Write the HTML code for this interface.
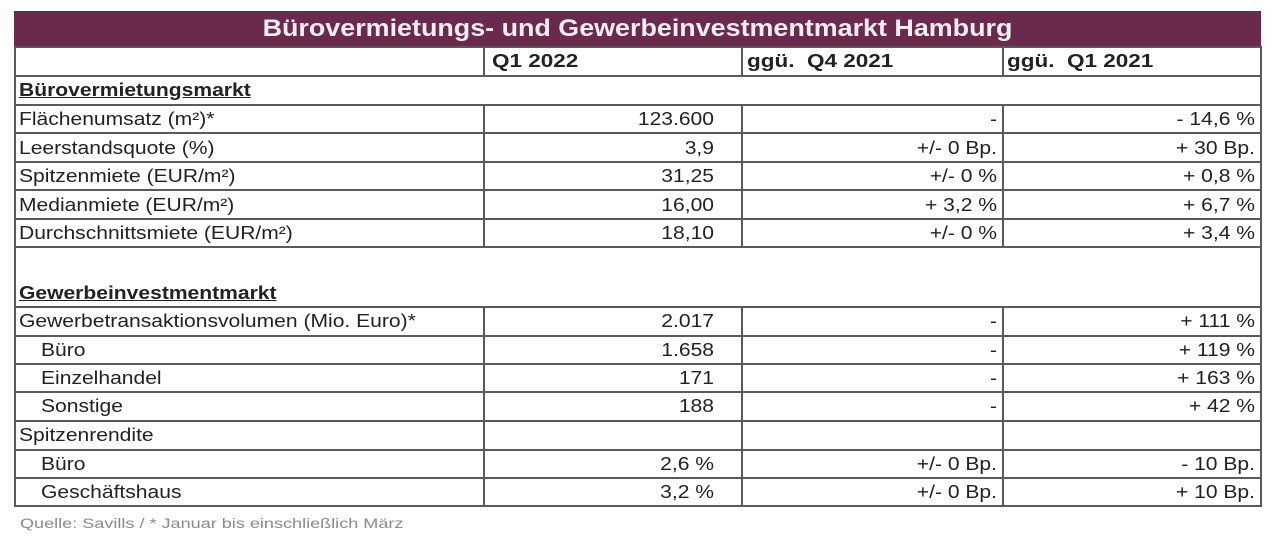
<!DOCTYPE html>
<html><head><meta charset="utf-8"><style>
body{margin:0;width:1280px;height:544px;background:#fff;position:relative;font-family:"Liberation Sans",Arial,sans-serif;overflow:hidden}
.t{position:absolute;font-size:18px;color:#222;white-space:nowrap;line-height:20px;transform:scaleX(1.17);transform-origin:left center}
.r{text-align:right;transform-origin:right center}
.h{position:absolute;background:#5a5a5a;height:2px}
.v{position:absolute;background:#5a5a5a;width:2px}
b.u{text-decoration:underline;font-weight:bold}
.hd{font-weight:bold;transform:scaleX(1.25)}
</style></head><body>
<div style="position:absolute;left:14px;top:11px;width:1247px;height:35px;background:#6a2a4d"></div>
<div class="t" style="left:14px;width:1247px;top:16px;text-align:center;color:#f2eef0;font-weight:bold;font-size:24px;line-height:26px;transform:scaleX(1.12);transform-origin:center">Bürovermietungs- und Gewerbeinvestmentmarkt Hamburg</div>
<div class="h" style="left:14px;width:1248px;top:46px"></div>
<div class="h" style="left:14px;width:1248px;top:75px"></div>
<div class="h" style="left:14px;width:1248px;top:104px"></div>
<div class="h" style="left:14px;width:1248px;top:132px"></div>
<div class="h" style="left:14px;width:1248px;top:161px"></div>
<div class="h" style="left:14px;width:1248px;top:189px"></div>
<div class="h" style="left:14px;width:1248px;top:218px"></div>
<div class="h" style="left:14px;width:1248px;top:246px"></div>
<div class="h" style="left:14px;width:1248px;top:306px"></div>
<div class="h" style="left:14px;width:1248px;top:335px"></div>
<div class="h" style="left:14px;width:1248px;top:363px"></div>
<div class="h" style="left:14px;width:1248px;top:391px"></div>
<div class="h" style="left:14px;width:1248px;top:420px"></div>
<div class="h" style="left:14px;width:1248px;top:449px"></div>
<div class="h" style="left:14px;width:1248px;top:477px"></div>
<div class="h" style="left:14px;width:1248px;top:505px"></div>
<div class="v" style="left:14px;top:46px;height:461px"></div>
<div class="v" style="left:1260px;top:46px;height:461px"></div>
<div class="v" style="left:483px;top:46px;height:30px"></div>
<div class="v" style="left:741px;top:46px;height:30px"></div>
<div class="v" style="left:1002px;top:46px;height:30px"></div>
<div class="v" style="left:483px;top:104px;height:144px"></div>
<div class="v" style="left:741px;top:104px;height:144px"></div>
<div class="v" style="left:1002px;top:104px;height:144px"></div>
<div class="v" style="left:483px;top:306px;height:201px"></div>
<div class="v" style="left:741px;top:306px;height:201px"></div>
<div class="v" style="left:1002px;top:306px;height:201px"></div>
<div class="t hd" style="left:492px;top:51px">Q1 2022</div>
<div class="t hd" style="left:747px;top:51px">ggü.&nbsp; Q4 2021</div>
<div class="t hd" style="left:1007px;top:51px">ggü.&nbsp; Q1 2021</div>
<div class="t" style="left:19px;top:80px"><b class="u">Bürovermietungsmarkt</b></div>
<div class="t" style="left:19px;top:283px"><b class="u">Gewerbeinvestmentmarkt</b></div>

<div class="t" style="left:19px;top:109px">Flächenumsatz (m²)*</div>
<div class="t r" style="left:486px;width:228px;top:109px">123.600</div>
<div class="t r" style="left:744px;width:253px;top:109px">-</div>
<div class="t r" style="left:1005px;width:250px;top:109px">- 14,6 %</div>

<div class="t" style="left:19px;top:138px">Leerstandsquote (%)</div>
<div class="t r" style="left:486px;width:228px;top:138px">3,9</div>
<div class="t r" style="left:744px;width:253px;top:138px">+/- 0 Bp.</div>
<div class="t r" style="left:1005px;width:250px;top:138px">+ 30 Bp.</div>

<div class="t" style="left:19px;top:166px">Spitzenmiete (EUR/m²)</div>
<div class="t r" style="left:486px;width:228px;top:166px">31,25</div>
<div class="t r" style="left:744px;width:253px;top:166px">+/- 0 %</div>
<div class="t r" style="left:1005px;width:250px;top:166px">+ 0,8 %</div>

<div class="t" style="left:19px;top:195px">Medianmiete (EUR/m²)</div>
<div class="t r" style="left:486px;width:228px;top:195px">16,00</div>
<div class="t r" style="left:744px;width:253px;top:195px">+ 3,2 %</div>
<div class="t r" style="left:1005px;width:250px;top:195px">+ 6,7 %</div>

<div class="t" style="left:19px;top:223px">Durchschnittsmiete (EUR/m²)</div>
<div class="t r" style="left:486px;width:228px;top:223px">18,10</div>
<div class="t r" style="left:744px;width:253px;top:223px">+/- 0 %</div>
<div class="t r" style="left:1005px;width:250px;top:223px">+ 3,4 %</div>

<div class="t" style="left:19px;top:311px">Gewerbetransaktionsvolumen (Mio. Euro)*</div>
<div class="t r" style="left:486px;width:228px;top:311px">2.017</div>
<div class="t r" style="left:744px;width:253px;top:311px">-</div>
<div class="t r" style="left:1005px;width:250px;top:311px">+ 111 %</div>

<div class="t" style="left:41px;top:340px">Büro</div>
<div class="t r" style="left:486px;width:228px;top:340px">1.658</div>
<div class="t r" style="left:744px;width:253px;top:340px">-</div>
<div class="t r" style="left:1005px;width:250px;top:340px">+ 119 %</div>

<div class="t" style="left:41px;top:368px">Einzelhandel</div>
<div class="t r" style="left:486px;width:228px;top:368px">171</div>
<div class="t r" style="left:744px;width:253px;top:368px">-</div>
<div class="t r" style="left:1005px;width:250px;top:368px">+ 163 %</div>

<div class="t" style="left:41px;top:396px">Sonstige</div>
<div class="t r" style="left:486px;width:228px;top:396px">188</div>
<div class="t r" style="left:744px;width:253px;top:396px">-</div>
<div class="t r" style="left:1005px;width:250px;top:396px">+ 42 %</div>

<div class="t" style="left:19px;top:425px">Spitzenrendite</div>

<div class="t" style="left:41px;top:454px">Büro</div>
<div class="t r" style="left:486px;width:228px;top:454px">2,6 %</div>
<div class="t r" style="left:744px;width:253px;top:454px">+/- 0 Bp.</div>
<div class="t r" style="left:1005px;width:250px;top:454px">- 10 Bp.</div>

<div class="t" style="left:41px;top:482px">Geschäftshaus</div>
<div class="t r" style="left:486px;width:228px;top:482px">3,2 %</div>
<div class="t r" style="left:744px;width:253px;top:482px">+/- 0 Bp.</div>
<div class="t r" style="left:1005px;width:250px;top:482px">+ 10 Bp.</div>

<div class="t" style="left:20px;top:513px;font-size:14px;color:#8a8a8a;transform:scaleX(1.29)">Quelle: Savills / * Januar bis einschließlich März</div>
</body></html>
